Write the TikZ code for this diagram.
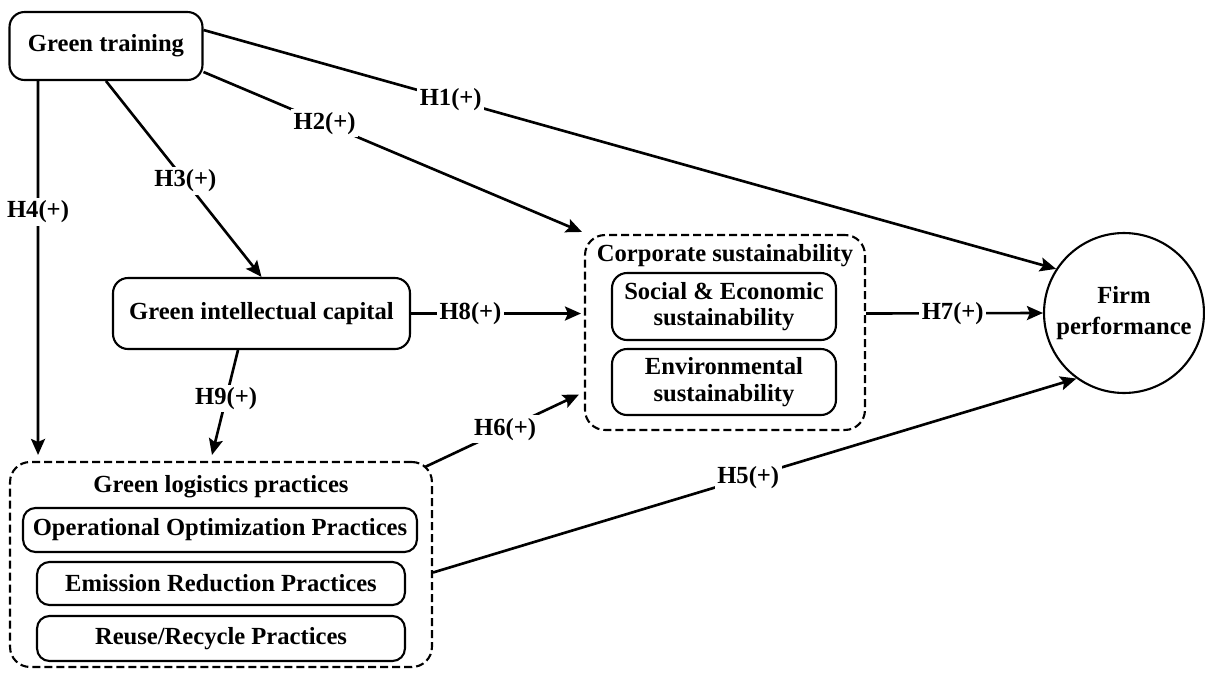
\documentclass[tikz,border=0pt]{standalone}
\usepackage{fontspec}
\setmainfont{Liberation Serif}
\usetikzlibrary{arrows.meta,positioning}

\begin{document}
\begin{tikzpicture}[x=0.02cm, y=-0.02cm, line width=1.2pt,
  font=\fontsize{14}{15}\selectfont\bfseries,
  box/.style={draw, shape = rectangle, rounded corners=0.3cm, align=center, inner sep=0pt},
  group/.style={draw, shape = rectangle, rounded corners=0.4cm, dash pattern=on 0.16cm off 0.08cm, inner sep=0pt},
  hyp/.style={line width=1.5pt, -{Stealth[length=0.32cm, width=0.28cm, inset=0.06cm]}},
  lbl/.style={fill=white, inner sep=1.5pt}]
\useasboundingbox (0,0) rectangle (1205,673);

% constructs
\node[box, minimum width=3.86cm, minimum height=1.36cm] (gt) at (106,46) {Green training};
\node[box, minimum width=5.94cm, minimum height=1.42cm] (gic) at (261.5,313.5) {Green intellectual capital};
\node[draw, shape = circle, minimum size=3.2cm, align=center, inner sep=0pt] (fp) at (1124,313) {Firm\\[3pt]performance};

% green logistics practices
\node[group, minimum width=8.44cm, minimum height=4.1cm] (glp) at (221,564.5) {};
\node (glpt) at (221,487) {Green logistics practices};
\node[box, rounded corners=0.25cm, minimum width=7.88cm, minimum height=0.88cm] (oop) at (220,530) {Operational Optimization Practices};
\node[box, rounded corners=0.25cm, minimum width=7.36cm, minimum height=0.86cm] (erp) at (221,583.5) {Emission Reduction Practices};
\node[box, rounded corners=0.25cm, minimum width=7.36cm, minimum height=0.9cm] (rrp) at (221,638.5) {Reuse/Recycle Practices};

% corporate sustainability
\node[group, minimum width=5.6cm, minimum height=3.9cm] (cs) at (725,332.5) {};
\node (cst) at (725,256) {Corporate sustainability};
\node[box, minimum width=4.48cm, minimum height=1.34cm] (sec) at (724,306.5) {Social \& Economic\\sustainability};
\node[box, minimum width=4.48cm, minimum height=1.32cm] (env) at (724,382) {Environmental\\sustainability};

% hypotheses
\draw[hyp] ([yshift=0.32cm]gt.east) -- (fp.147) node[lbl, pos=0.29] {H1(+)};
\draw[hyp] ([yshift=-0.52cm]gt.east) -- ([shift={(-0.04cm,0.04cm)}]cs.north west) node[lbl, pos=0.32] {H2(+)};
\draw[hyp] (gt.south) -- (gic.north) node[lbl, pos=0.51] {H3(+)};
\draw[hyp] ([xshift=-1.36cm]gt.south) -- ([xshift=-3.66cm, yshift=0.12cm]glp.north) node[lbl, pos=0.35] {H4(+)};
\draw[hyp] (gic.east) -- ([yshift=0.38cm, xshift=-0.06cm]cs.west) node[lbl, pos=0.35] {H8(+)};
\draw[hyp] ([xshift=-0.47cm]gic.south) -- ([xshift=-0.18cm, yshift=0.12cm]glp.north) node[lbl, pos=0.46] {H9(+)};
\draw[hyp] ([shift={(-0.16cm,-0.12cm)}]glp.north east) -- ([xshift=-0.1cm, yshift=-1.24cm]cs.west) node[lbl, pos=0.52] {H6(+)};
\draw[hyp] ([yshift=-0.16cm]glp.east) -- (fp.234) node[lbl, pos=0.49] {H5(+)};
\draw[hyp] ([yshift=0.38cm]cs.east) -- (fp.west) node[lbl, pos=0.49] {H7(+)};
\end{tikzpicture}
\end{document}
